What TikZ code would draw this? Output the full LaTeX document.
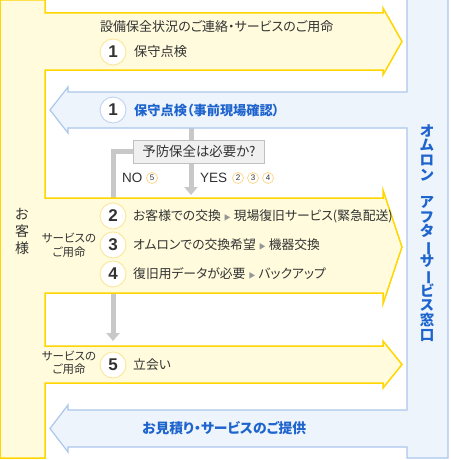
\documentclass[tikz,border=0pt]{standalone}
\usepackage{fontspec}
\setmainfont{Noto Sans CJK JP}[RawFeature=+palt]
\newfontfamily\lat{Liberation Sans}
\usetikzlibrary{arrows.meta}
\definecolor{yfill}{RGB}{255,251,220}
\definecolor{yline}{RGB}{255,214,0}
\definecolor{bfill}{RGB}{238,244,252}
\definecolor{bline}{RGB}{172,198,236}
\definecolor{btext}{RGB}{30,100,205}
\definecolor{dtext}{RGB}{50,50,50}
\definecolor{gline}{RGB}{200,200,200}
\definecolor{gbox}{RGB}{240,240,240}
\definecolor{gboxline}{RGB}{192,192,192}
\definecolor{ycirc}{RGB}{252,232,160}
\definecolor{bcirc}{RGB}{196,214,242}
\definecolor{tric}{RGB}{150,150,150}
\newcommand\mytri{\hspace{3pt}{\color{tric}\fontsize{7}{7}\selectfont ▶}\hspace{3pt}}
\newcommand\vbar{\smash{\rotatebox[origin=c]{-90}{ー}}}
\begin{document}
\begin{tikzpicture}[x=1pt,y=-1pt,
  txt/.style={anchor=west, inner sep=0pt, text=dtext, font=\fontsize{12.8}{14}\selectfont},
  btxt/.style={anchor=west, inner sep=0pt, text=btext, font=\bfseries\fontsize{13.2}{14}\selectfont},
  num/.style={circle, draw=ycirc, fill=white, line width=1pt, minimum size=26pt, inner sep=0pt, text=dtext, font=\lat\bfseries\fontsize{17}{17}\selectfont},
  bnum/.style={num, draw=bcirc},
  snum/.style={circle, draw=ycirc!80!orange, fill=white, line width=0.7pt, minimum size=11pt, inner sep=0pt, text=dtext, font=\lat\fontsize{8}{8}\selectfont},
  yn/.style={anchor=west, inner sep=0pt, text=dtext, font=\lat\fontsize{13.5}{14}\selectfont},
  svc/.style={align=center, inner sep=0pt, text=dtext, font=\fontsize{11.5}{13.5}\selectfont},
  qbox/.style={draw=gboxline, fill=gbox, line width=1pt, minimum width=131pt, minimum height=23pt, inner sep=0pt, text=dtext, font=\fontsize{13.4}{14}\selectfont},
  glink/.style={draw=gline, line width=5pt},
  garrow/.style={glink, -{Triangle[width=13pt,length=8pt]}},
]
\useasboundingbox (0,0) rectangle (450,460);
\fill[white] (0,0) rectangle (450,460);
% gray connectors (under the bands)
\coordinate (qc) at (199,151.5);
\coordinate (yestop) at (191,128);
\coordinate (yestip) at (191,195);
\coordinate (nocorner) at (113,151.5);
\coordinate (notip) at (113,341);
\coordinate (qw) at (133,151.5);
\draw[glink] (yestop) -- (191,140);
\draw[garrow] (191,163) -- (yestip);
\draw[garrow] (qw) -- (nocorner) -- (notip);
% yellow shape
\draw[fill=yfill, draw=yline, line width=1.5pt, line join=miter]
  (0,0) -- (45,0) -- (45,13) -- (383,13) -- (383,8) -- (402,41.5) -- (383,75) -- (383,70)
  -- (45,70) -- (45,198) -- (383,198) -- (383,190) -- (402,247) -- (383,304) -- (383,293)
  -- (45,293) -- (45,346) -- (383,346) -- (383,341) -- (402,364.5) -- (383,388) -- (383,383)
  -- (45,383) -- (45,458) -- (0,458) -- cycle;
% blue shape
\draw[fill=bfill, draw=bline, line width=1.2pt, line join=miter]
  (407,-1) -- (407,92) -- (68,92) -- (68,87) -- (50,110) -- (68,133) -- (68,128)
  -- (407,128) -- (407,410) -- (68,410) -- (68,405) -- (50,428.5) -- (68,452) -- (68,447)
  -- (407,447) -- (407,458) -- (448,458) -- (448,-1) -- cycle;
% question box
\node[qbox] (q) at (qc) {予防保全は必要か?};
% side labels
\node[align=center, inner sep=0pt, text=dtext, font=\fontsize{14}{17}\selectfont] (cust) at (22,231) {お\\客\\様};
\node[align=center, inner sep=0pt, text=btext, font=\bfseries\fontsize{14.5}{14.8}\selectfont] (win) at (427,233) {オ\\ム\\ロ\\ン\\[12pt]ア\\フ\\タ\\\vbar\\サ\\\vbar\\ビ\\ス\\窓\\口};
% band 1
\node[txt, font=\fontsize{13}{14}\selectfont] (t0) at (100,27) {設備保全状況のご連絡・サービスのご用命};
\node[num] (c1) at (113,52) {1};
\node[txt, font=\fontsize{13.2}{14}\selectfont] (t1) at (134,52) {保守点検};
% blue arrow 1
\node[bnum] (c1b) at (113,110) {1};
\node[btxt] (t1b) at (134,110) {保守点検（事前現場確認）};
% yes / no
\node[yn] (no) at (122,178) {NO};
\node[snum] (s5) at (152,178) {5};
\node[yn] (yes) at (200,178) {YES};
\node[snum] (s2) at (238,178) {2};
\node[snum] (s3) at (253,178) {3};
\node[snum] (s4) at (268,178) {4};
% band 2
\node[svc] (svc2) at (69,245) {サービスの\\ご用命};
\node[num] (c2) at (113,216) {2};
\node[txt] (t2) at (133,216) {お客様での交換\mytri 現場復旧サービス(緊急配送)};
\node[num] (c3) at (113,245) {3};
\node[txt] (t3) at (133,245) {オムロンでの交換希望\mytri 機器交換};
\node[num] (c4) at (113,274) {4};
\node[txt] (t4) at (133,274) {復旧用データが必要\mytri バックアップ};
% band 3
\node[svc] (svc3) at (69,362.5) {サービスの\\ご用命};
\node[num] (c5) at (113,365) {5};
\node[txt] (t5) at (133,365) {立会い};
% bottom blue arrow
\node[btxt, font=\bfseries\fontsize{13.8}{14}\selectfont] (t6) at (142,428.5) {お見積り・サービスのご提供};
\end{tikzpicture}
\end{document}
